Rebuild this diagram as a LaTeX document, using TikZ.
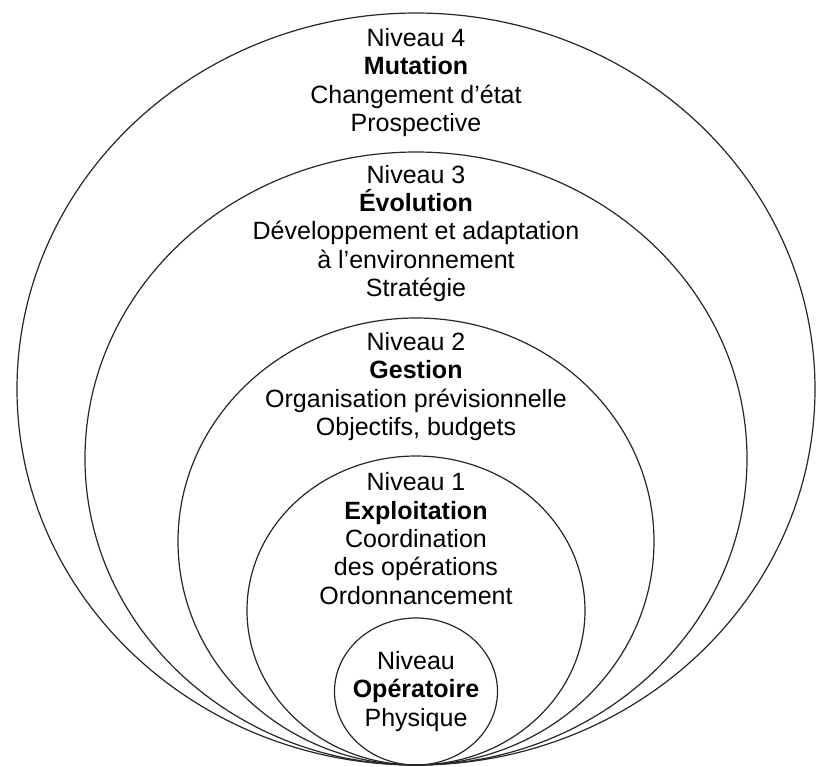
\documentclass[tikz,border=0pt]{standalone}
\usepackage{fontspec}
\setmainfont{Liberation Sans}

\begin{document}
\begin{tikzpicture}[x=0.5pt, y=-0.5pt,
        niveau/.style={align=center, inner sep=0pt, font=\fontsize{12.5pt}{14.2pt}\selectfont}]
        \useasboundingbox (0,0) rectangle (816,767);

        % Nested ellipses, all touching at the bottom
        \foreach \t/\r in {13/399, 152/331, 318/238, 456/169, 618/81.5}
            \draw[line width=0.6pt, black!85] (416,{(\t+765)/2}) ellipse [x radius=\r, y radius={(765-\t)/2}];

        % Level 4
        \node[niveau] (niv4) at (416,82.5) {Niveau 4\\\textbf{Mutation}\\Changement d’état\\Prospective};

        % Level 3
        \node[niveau] (niv3) at (416,233.5) {Niveau 3\\\textbf{Évolution}\\Développement et adaptation\\à l’environnement\\Stratégie};

        % Level 2
        \node[niveau] (niv2) at (416,386.5) {Niveau 2\\\textbf{Gestion}\\Organisation prévisionnelle\\Objectifs, budgets};

        % Level 1
        \node[niveau] (niv1) at (416,538.5) {Niveau 1\\\textbf{Exploitation}\\Coordination\\des opérations\\Ordonnancement};

        % Operational level
        \node[niveau] (nivop) at (416,691.5) {Niveau\\\textbf{Opératoire}\\Physique};
    \end{tikzpicture}
\end{document}
